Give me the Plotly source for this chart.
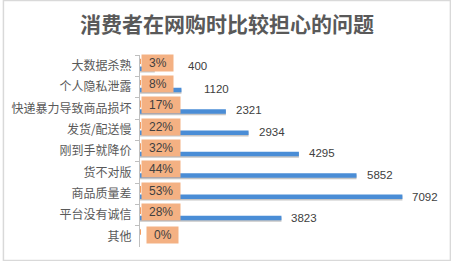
import plotly.graph_objects as go

categories = ["大数据杀熟", "个人隐私泄露", "快递暴力导致商品损坏", "发货/配送慢", "刚到手就降价",
              "货不对版", "商品质量差", "平台没有诚信", "其他"]
counts = [400, 1120, 2321, 2934, 4295, 5852, 7092, 3823, 0]
percents = [0.03, 0.08, 0.17, 0.22, 0.32, 0.44, 0.53, 0.28, 0.0]
title_text = "消费者在网购时比较担心的问题"

# style / layout
W, H = 451, 261
ML, MR, MT, MB = 138, 15, 55, 14
PW, PH = W - ML - MR, H - MT - MB
count_label_xshift = [31, 21, 8, 8, 8, 8, 8, 8, 8]
count_label_yshift = [0, -2, -2, -2, -2, -3, -3, -3, -3]

BLUE = "#4A8DD6"
ORANGE = "#F4B183"
TXT = "#404040"
AX = "#595959"
NUMFONT = "Liberation Sans, Arial, sans-serif"
CJK = "Noto Sans CJK SC, sans-serif"
PAD = "\u2002"

fig = go.Figure()
# shadow for blue bars
fig.add_trace(go.Bar(y=categories, x=counts, orientation="h", marker=dict(color="rgba(90,90,90,0.35)", line=dict(width=0)),
                     width=0.22, offset=0.1, hoverinfo="skip", showlegend=False))
fig.add_trace(go.Bar(y=categories, x=percents, orientation="h", marker=dict(color="#ED7D31", line=dict(color="#ED7D31", width=1.5)),
                     width=0.25, offset=-0.33, showlegend=False))
fig.add_trace(go.Bar(y=categories, x=counts, orientation="h", marker=dict(color=BLUE, line=dict(width=0)),
                     width=0.21, offset=0.04, showlegend=False))

annotations = []
for i, (c, v, p) in enumerate(zip(categories, counts, percents)):
    if v > 0:
        annotations.append(dict(x=v, y=c, xref="x", yref="y", text=str(v), showarrow=False,
                                xanchor="left", yanchor="middle", xshift=count_label_xshift[i],
                                yshift=count_label_yshift[i],
                                font=dict(family=NUMFONT, size=11.5, color=TXT)))
    annotations.append(dict(x=p, y=c, xref="x", yref="y", text=PAD + f"{round(p*100)}%" + PAD,
                            showarrow=False, xanchor="left", yanchor="middle",
                            xshift=1 if p > 0 else 6, yshift=3 if p > 0 else 1,
                            bgcolor=ORANGE, borderpad=1,
                            font=dict(family=NUMFONT, size=12, color=TXT)))
annotations.append(dict(text=f"<b>{title_text}</b>", x=(W / 2 - ML) / PW, y=(H - MB - 23) / PH,
                        xref="paper", yref="paper", showarrow=False, xanchor="center", yanchor="middle",
                        font=dict(family=CJK, size=21, color=AX)))

fig.update_layout(
    width=W, height=H,
    margin=dict(l=ML, r=MR, t=MT, b=MB, pad=0),
    paper_bgcolor="white", plot_bgcolor="white",
    barmode="overlay",
    showlegend=False,
    annotations=annotations,
    shapes=[dict(type="rect", xref="paper", yref="paper",
                 x0=(0.5 - ML) / PW, x1=(W - 0.5 - ML) / PW,
                 y0=(H - MB - (H - 0.5)) / PH, y1=(H - MB - 0.5) / PH,
                 line=dict(color="#D9D9D9", width=1.5), layer="below")],
    xaxis=dict(range=[0, 8000], visible=False, fixedrange=True),
    yaxis=dict(autorange="reversed", type="category", showgrid=False,
               showline=True, linecolor="#BFBFBF", linewidth=1,
               ticks="outside", tickson="boundaries", ticklen=4, tickcolor="#BFBFBF",
               ticklabelstandoff=5,
               tickfont=dict(family=CJK, size=12, color=AX), zeroline=False),
)

fig.write_html("out.html")
